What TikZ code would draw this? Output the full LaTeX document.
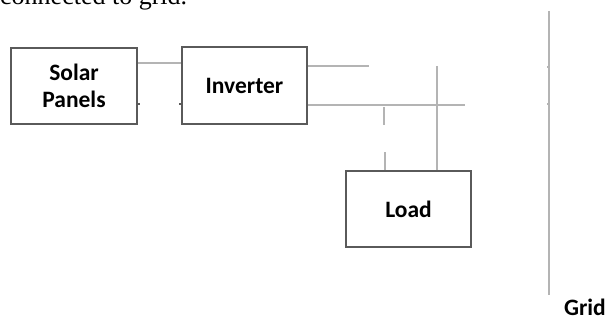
\documentclass[tikz,border=0pt]{standalone}
\usepackage{fontspec}
\setmainfont{Liberation Serif}
\newfontfamily\labelfont{Carlito}
\begin{document}
\begin{tikzpicture}[x=1pt,y=-1pt,
  labeltext/.style={font=\labelfont\bfseries\fontsize{23.5}{27}\selectfont},
  unit/.style={draw=boxgray,line width=2pt,fill=white,minimum width=125pt,
    minimum height=76pt,inner sep=0pt,align=center,labeltext},
  wire/.style={draw=wiregray,line width=1.5pt},
  stub/.style={draw=boxgray,line width=1.5pt}]
\definecolor{boxgray}{HTML}{5A5A5A}
\definecolor{wiregray}{HTML}{B4B4B4}
\useasboundingbox (0,0) rectangle (611,321);

% caption line running in from the text above
\node[anchor=base west,inner sep=0pt,font=\fontsize{26}{30}\selectfont] (cap) at (0,5) {connected to grid.};

% blocks
\node[unit,minimum width=126pt] (solar) at (74,86) {Solar\\Panels};
\node[unit] (inv) at (244.5,85.5) {Inverter};
\node[unit] (load) at (408.5,209) {Load};
\node[anchor=base,inner sep=0pt,labeltext] (gridlbl) at (585,315.5) {Grid};

% free ends of the wiring
\coordinate (acend) at (369,66);
\coordinate (busend) at (465,105);
\coordinate (gtop) at (549,11);
\coordinate (gbot) at (549,295);
\coordinate (tapA) at (437,66);
\coordinate (nA1) at (384,107);
\coordinate (nA2) at (384,125);
\coordinate (nB1) at (385,152);

% solar panels to inverter
\draw[wire] (solar.east |- 0,63) -- (inv.west |- 0,63);
\draw[stub] (solar.east |- 0,104) -- ++(2,0);
\draw[stub] (inv.west |- 0,104) -- ++(-2,0);

% inverter outputs
\draw[wire] (inv.east |- acend) -- (acend);
\draw[wire] (inv.east |- busend) -- (busend);

% load feeds
\draw[wire] (tapA) -- (load.north -| tapA);
\draw[wire] (nA1) -- (nA2);
\draw[wire] (nB1) -- (load.north -| nB1);

% grid line
\draw[wire] (gtop) -- (gbot);
\draw[wire] (gtop |- 0,67) -- ++(-2,0);
\draw[wire] (gtop |- 0,104) -- ++(-2,0);
\end{tikzpicture}
\end{document}
